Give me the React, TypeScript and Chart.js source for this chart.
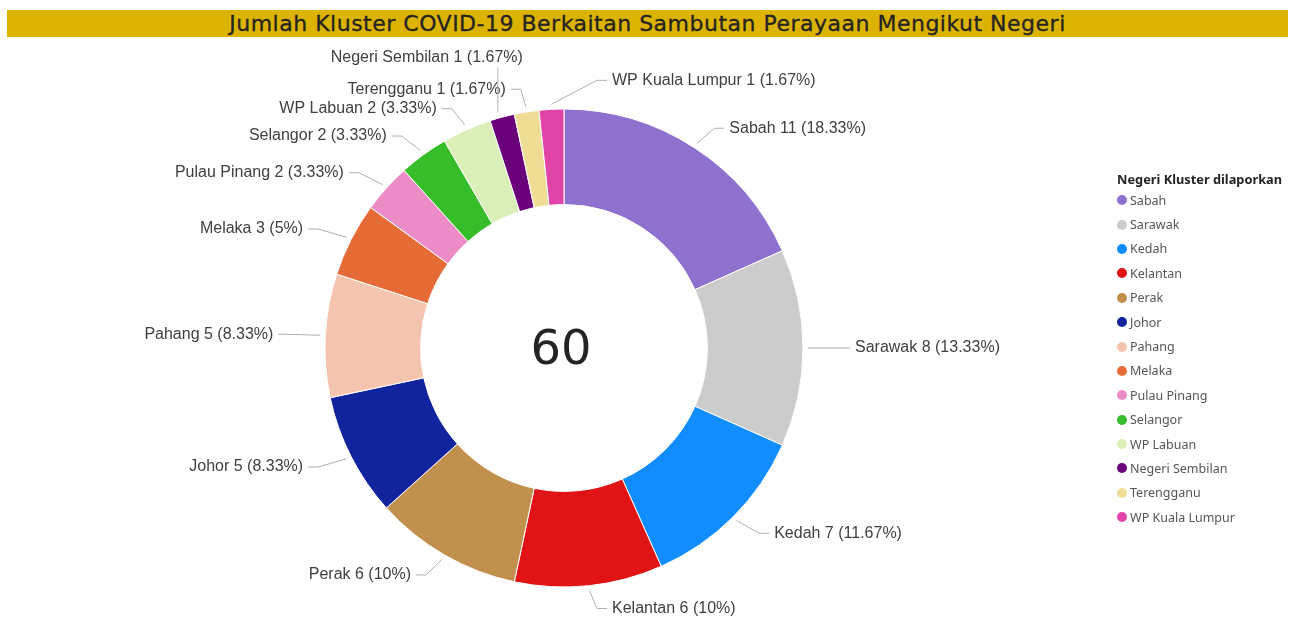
import React, { useEffect, useRef } from "react";
import { Chart, registerables } from "chart.js";

Chart.register(...registerables);

const chartTitle = "Jumlah Kluster COVID-19 Berkaitan Sambutan Perayaan Mengikut Negeri";
const legendTitle = "Negeri Kluster dilaporkan";

const states = [
  "Sabah",
  "Sarawak",
  "Kedah",
  "Kelantan",
  "Perak",
  "Johor",
  "Pahang",
  "Melaka",
  "Pulau Pinang",
  "Selangor",
  "WP Labuan",
  "Negeri Sembilan",
  "Terengganu",
  "WP Kuala Lumpur",
];

const clusters = [11, 8, 7, 6, 6, 5, 5, 3, 2, 2, 2, 1, 1, 1];

const colors = [
  "#8e71cf",
  "#cccccc",
  "#118dff",
  "#e01414",
  "#c1904c",
  "#12239e",
  "#f5c4af",
  "#e66c37",
  "#eb8cc6",
  "#37bd2a",
  "#dbefb8",
  "#6b007b",
  "#efdd95",
  "#e044a7",
];

const fmtPct = (v: number, total: number) => String(parseFloat(((v / total) * 100).toFixed(2)));

const LABEL_FONT = '16px "Liberation Sans", Arial, sans-serif';
const LABEL_COLOR = "#404040";
const LINE_COLOR = "#b0b0b0";

const leaderPlugin = {
  id: "leaderLabels",
  afterDatasetsDraw(chart: any) {
    const meta = chart.getDatasetMeta(0);
    const arcs = meta.data;
    if (!arcs || !arcs.length) return;
    const values = chart.data.datasets[0].data as number[];
    const labels = chart.data.labels as string[];
    const total = values.reduce((a, b) => a + b, 0);
    const p0 = arcs[0].getProps(["x", "y", "outerRadius"], true);
    const cx = p0.x, cy = p0.y, R = p0.outerRadius;
    const ctx = chart.ctx as CanvasRenderingContext2D;

    const items = arcs.map((arc: any, i: number) => {
      const p = arc.getProps(["startAngle", "endAngle"], true);
      const mid = (p.startAngle + p.endAngle) / 2;
      const ux = Math.cos(mid), uy = Math.sin(mid);
      return {
        i,
        ux,
        uy,
        start: { x: cx + (R + 5) * ux, y: cy + (R + 5) * uy },
        elbow: { x: cx + (R + 37) * ux, y: cy + (R + 23) * uy },
        side: ux >= 0 ? "right" : "left",
        nearTop: Math.abs(ux) < 0.1 && uy < 0,
        overflow: false,
        text: `${labels[i]} ${values[i]} (${fmtPct(values[i], total)}%)`,
      };
    });

    // near-top labels go to the side with more room
    items.filter((it: any) => it.nearTop).forEach((it: any) => {
      const room = (side: string) => {
        const ds = items
          .filter((o: any) => o !== it && !o.nearTop && o.side === side)
          .map((o: any) => Math.abs(o.elbow.y - it.elbow.y));
        return ds.length ? Math.min(...ds) : 1e9;
      };
      it.side = room("right") >= room("left") ? "right" : "left";
      if (it.side === "right") it.elbow.y -= 6;
    });

    const GAP = 17;
    ["left", "right"].forEach((side) => {
      const list = items.filter((it: any) => it.side === side);
      const sorted = side === "left"
        ? list.slice().sort((a: any, b: any) => b.elbow.y - a.elbow.y)
        : list.slice().sort((a: any, b: any) => a.elbow.y - b.elbow.y);
      let prev: number | null = null;
      sorted.forEach((it: any) => {
        if (side === "left") {
          it.elbow.x = Math.min(it.elbow.x, cx - 33);
          if (prev !== null && it.elbow.y > prev - GAP) it.overflow = true;
          else prev = it.elbow.y;
        } else {
          it.elbow.x = Math.max(it.elbow.x, cx + 33);
          if (prev !== null && it.elbow.y < prev + GAP) it.overflow = true;
          else prev = it.elbow.y;
        }
      });
    });

    ctx.save();
    ctx.font = LABEL_FONT;
    ctx.textBaseline = "middle";
    ctx.lineWidth = 1;
    ctx.strokeStyle = LINE_COLOR;
    ctx.fillStyle = LABEL_COLOR;

    items.forEach((it: any) => {
      if (it.overflow) return;
      const dir = it.side === "right" ? 1 : -1;
      const hx = it.elbow.x + dir * 10;
      ctx.beginPath();
      ctx.moveTo(it.start.x, it.start.y);
      ctx.lineTo(it.elbow.x, it.elbow.y);
      ctx.lineTo(hx, it.elbow.y);
      ctx.stroke();
      ctx.textAlign = it.side === "right" ? "left" : "right";
      ctx.fillText(it.text, hx + dir * 5, it.elbow.y);
    });

    ["left", "right"].forEach((side) => {
      const placed = items.filter((it: any) => it.side === side && !it.overflow);
      let topY = placed.length ? Math.min(...placed.map((it: any) => it.elbow.y)) : cy - R;
      items
        .filter((it: any) => it.side === side && it.overflow)
        .forEach((it: any) => {
          const y = topY - 32;
          const lx = it.start.x - 3;
          ctx.beginPath();
          ctx.moveTo(lx, it.start.y);
          ctx.lineTo(lx, y + 10);
          ctx.stroke();
          ctx.textAlign = side === "left" ? "right" : "left";
          ctx.fillText(it.text, side === "left" ? lx + 25 : lx - 25, y);
          topY = y;
        });
    });

    // center total
    ctx.font = '48px "DejaVu Sans", sans-serif';
    ctx.fillStyle = "#252423";
    ctx.textAlign = "center";
    ctx.textBaseline = "middle";
    ctx.fillText(String(total), cx - 3, cy + 4);
    ctx.restore();
  },
};

export default function App() {
  const canvasRef = useRef<HTMLCanvasElement | null>(null);

  useEffect(() => {
    if (!canvasRef.current) return;
    const chart = new Chart(canvasRef.current, {
      type: "doughnut",
      data: {
        labels: states,
        datasets: [
          {
            data: clusters,
            backgroundColor: colors,
            borderColor: "#ffffff",
            borderWidth: 1,
            hoverOffset: 0,
          },
        ],
      },
      options: {
        responsive: false,
        animation: false,
        radius: 239,
        cutout: "60%",
        layout: { padding: { left: 0, right: 167, top: 79, bottom: 0 } },
        plugins: {
          legend: { display: false },
          tooltip: { enabled: false },
          title: { display: false },
        },
      } as any,
      plugins: [leaderPlugin],
    });
    return () => chart.destroy();
  }, []);

  return (
    <div style={{ position: "fixed", left: 0, top: 0, width: 1295, height: 617, background: "#fff", overflow: "hidden" }}>
      <canvas ref={canvasRef} width={1295} height={617} style={{ position: "absolute", left: 0, top: 0 }} />
      <div
        style={{
          position: "absolute",
          left: 7,
          top: 10,
          width: 1281,
          height: 27,
          background: "#dbb300",
          color: "#252423",
          fontFamily: '"DejaVu Sans", sans-serif',
          fontStyle: "normal",
          fontSize: 22,
          letterSpacing: 0.5,
          lineHeight: "27px",
          textAlign: "center",
          whiteSpace: "nowrap",
          WebkitTextStroke: "0.3px #252423",
        }}
      >
        {chartTitle}
      </div>
      <div
        style={{
          position: "absolute",
          left: 1117,
          top: 171,
          fontFamily: '"Noto Sans", "Open Sans", sans-serif',
          fontSize: 12.5,
          color: "#555555",
        }}
      >
        <div style={{ fontWeight: 700, color: "#252423", height: 17, lineHeight: "17px", fontSize: 12.8, whiteSpace: "nowrap" }}>
          {legendTitle}
        </div>
        {states.map((s, i) => (
          <div key={s} style={{ display: "flex", alignItems: "center", height: 24.4, whiteSpace: "nowrap" }}>
            <span
              style={{
                display: "inline-block",
                width: 10,
                height: 10,
                borderRadius: "50%",
                background: colors[i],
                marginRight: 3,
              }}
            />
            <span>{s}</span>
          </div>
        ))}
      </div>
    </div>
  );
}
